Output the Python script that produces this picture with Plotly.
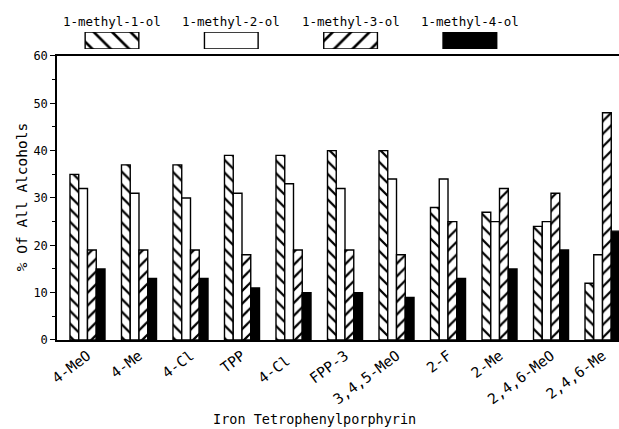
import plotly.graph_objects as go

categories = ["4-MeO", "4-Me", "4-Cl", "TPP", "4-Cl ", "FPP-3", "3,4,5-MeO",
              "2-F", "2-Me", "2,4,6-MeO", "2,4,6-Me"]
series_names = ["1-methyl-1-ol", "1-methyl-2-ol", "1-methyl-3-ol", "1-methyl-4-ol"]
ol1 = [35, 37, 37, 39, 39, 40, 40, 28, 27, 24, 12]
ol2 = [32, 31, 30, 31, 33, 32, 34, 34, 25, 25, 18]
ol3 = [19, 19, 19, 18, 19, 19, 18, 25, 32, 31, 48]
ol4 = [15, 13, 13, 11, 10, 10, 9, 13, 15, 19, 23]
series_values = [ol1, ol2, ol3, ol4]

pattern_shapes = ["\\", "", "/", ""]
fill_colors = ["white", "white", "white", "black"]

FONT = "DejaVu Sans Mono"

fig = go.Figure()
for name, vals, shp, col in zip(series_names, series_values, pattern_shapes, fill_colors):
    fig.add_trace(go.Bar(
        x=categories, y=vals, name=name, showlegend=False,
        marker=dict(color=col, line=dict(color="black", width=1.4),
                    pattern=dict(shape=shp, fgcolor="black", bgcolor=col,
                                 size=9, solidity=0.25)),
        xaxis="x", yaxis="y",
    ))

# legend swatches drawn as a small bar row on its own axes
for name, shp, col in zip(series_names, pattern_shapes, fill_colors):
    fig.add_trace(go.Bar(
        x=[name], y=[1], width=0.45, offset=-0.225, showlegend=False,
        marker=dict(color=col, line=dict(color="black", width=1.4),
                    pattern=dict(shape=shp, fgcolor="black", bgcolor=col,
                                 size=13, solidity=0.2)),
        xaxis="x2", yaxis="y2", hoverinfo="skip",
    ))

annotations = []
for name in series_names:
    annotations.append(dict(x=name, xref="x2", y=0.938, yref="paper",
                            text=name, showarrow=False,
                            font=dict(family=FONT, size=12.5, color="black"),
                            xanchor="center", yanchor="middle"))
annotations.append(dict(x=0.459, xref="paper", y=-0.232, yref="paper",
                        text="Iron Tetrophenylporphyrin", showarrow=False,
                        font=dict(family=FONT, size=13.5, color="black"),
                        xanchor="center", yanchor="middle"))
annotations.append(dict(x=-0.0623, xref="paper", y=0.42, yref="paper",
                        text="% Of All Alcohols", showarrow=False, textangle=-90,
                        font=dict(family=FONT, size=14.5, color="black"),
                        xanchor="center", yanchor="middle"))

fig.update_layout(
    template="none",
    width=619, height=429,
    margin=dict(l=57, r=0, t=0, b=89, autoexpand=False),
    paper_bgcolor="white", plot_bgcolor="white",
    barmode="group", bargap=0.32, bargroupgap=0,
    font=dict(family=FONT, color="black"),
    xaxis=dict(domain=[0, 1], type="category", range=[-0.592, 10.32],
               showline=True, linecolor="black", linewidth=1.5, mirror=True,
               ticks="", showgrid=False, zeroline=False, tickangle=-37,
               tickfont=dict(family=FONT, size=14.5, color="black"),
               anchor="y", automargin=False),
    yaxis=dict(domain=[0, 0.8353], range=[0, 60], dtick=10,
               showline=True, linecolor="black", linewidth=1.5,
               ticks="outside", ticklen=5, tickcolor="black",
               minor=dict(dtick=5, ticks="outside", ticklen=3, tickcolor="black"),
               showgrid=False, zeroline=False,
               tickfont=dict(family=FONT, size=12, color="black"),
               anchor="x", automargin=False),
    xaxis2=dict(domain=[0, 1], type="category", range=[-0.461, 4.25],
                visible=False, anchor="y2", automargin=False),
    yaxis2=dict(domain=[0.8559, 0.9059], range=[0, 1], visible=False,
                anchor="x2", automargin=False),
    annotations=annotations,
)

fig.write_html("out.html")
